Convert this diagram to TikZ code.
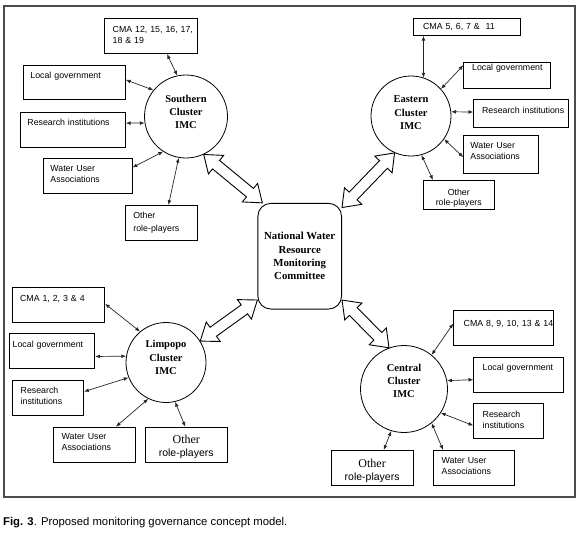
\documentclass[tikz,border=0pt]{standalone}
\usepackage{fontspec}
\setmainfont{Liberation Serif}
\setsansfont{Liberation Sans}
\usetikzlibrary{arrows.meta,calc}
\tikzset{
  frame/.style={draw=black!70, line width=1.3pt},
  bx/.style={draw, line width=0.8pt, rectangle, anchor=north west, inner xsep=8pt, inner ysep=0pt,
     align=left, font=\sffamily\fontsize{8.8}{11}\selectfont, text height=13.5pt},
  bxc/.style={bx, align=center, inner xsep=4pt},
  bxbig/.style={bxc, font=\sffamily\fontsize{10.5}{13}\selectfont},
  circ/.style={draw, circle, inner sep=0pt, line width=0.8pt},
  ctext/.style={align=center, inner sep=0pt, font=\bfseries\fontsize{10.5}{13.3}\selectfont},
  natl/.style={draw, rectangle, rounded corners=13pt, line width=0.9pt, inner sep=0pt,
     minimum width=83.7pt, minimum height=105.7pt, align=center,
     font=\bfseries\fontsize{10.8}{13.3}\selectfont},
  sa/.style={{Latex[length=4.8pt,width=3.8pt]}-{Latex[length=4.8pt,width=3.8pt]}, line width=0.7pt, draw=black!85},
  bigarr/.style={draw, line width=0.9pt, fill=white, line join=miter},
}
\newcommand\myBigArrow[2]{%
  \path (#1); \pgfgetlastxy{\myAx}{\myAy}%
  \path (#2); \pgfgetlastxy{\myBx}{\myBy}%
  \pgfmathsetmacro\myAng{atan2(\myBy-\myAy,\myBx-\myAx)}%
  \pgfmathsetmacro\myLen{veclen(\myBx-\myAx,\myBy-\myAy)}%
  \draw[bigarr, shift={(\myAx,\myAy)}, rotate=\myAng]
    (0pt,0pt) -- (16pt,12pt) -- (16pt,5.5pt) -- ({\myLen pt-16pt},5.5pt) -- ({\myLen pt-16pt},12pt)
    -- ({\myLen pt},0pt) -- ({\myLen pt-16pt},-12pt) -- ({\myLen pt-16pt},-5.5pt) -- (16pt,-5.5pt)
    -- (16pt,-12pt) -- cycle;%
}
\begin{document}
\begin{tikzpicture}[x=1pt,y=-1pt]
\useasboundingbox (0,0) rectangle (580,532);
\draw[frame] (4,6) rectangle (575,497);

% ---- circles
\node[circ, minimum size=83pt] (S) at (186,116.5) {};
\node[ctext] (St) at (186,112) {Southern\\Cluster\\IMC};
\node[circ, minimum size=80pt] (E) at (411,116) {};
\node[ctext] (Et) at (411,112.8) {Eastern\\Cluster\\IMC};
\node[circ, minimum size=80pt] (L) at (166,362.5) {};
\node[ctext] (Lt) at (166,357.7) {Limpopo\\Cluster\\IMC};
\node[circ, minimum size=87pt] (C) at (404,389) {};
\node[ctext] (Ct) at (404,381) {Central\\Cluster\\IMC};

% ---- national
\node[natl] (N) at (299.7,256.2) {National Water\\Resource\\Monitoring\\Committee};

% ---- Southern boxes
\node[bx, text width=76.4pt, text height=14.2pt, text depth=20.8pt] (cmaS) at (104.3,18.3) {\mbox{CMA 12, 15, 16, 17,}\\[-0.7pt]18 \& 19};
\node[bx, inner xsep=7.3pt, text width=87.7pt, text depth=20.8pt] (lgS) at (22.7,65) {Local government};
\node[bx, inner xsep=7pt, text width=91pt, text depth=21.5pt] (riS) at (20,111.7) {Research institutions};
\node[bx, inner xsep=7.3pt, text width=74.4pt, text height=13.2pt, text depth=21.8pt] (wuaS) at (42.7,158.3) {Water User\\Associations};
\node[bx, text width=55.7pt, text depth=21.5pt] (orpS) at (125,205) {Other\\[2pt]role-players};

% ---- Eastern boxes
\node[bx, inner xsep=9.4pt, text width=87.9pt, text height=11.2pt, text depth=5.5pt] (cmaE) at (413.3,18.3) {CMA 5, 6, 7 \& \ 11};
\node[bx, inner xsep=8.4pt, text width=69.9pt, text height=8pt, text depth=18.6pt] (lgE) at (463.3,61.7) {\mbox{Local government}};
\node[bx, inner xsep=8.4pt, text width=78.2pt, text height=14pt, text depth=14pt] (riE) at (473.3,99.3) {\mbox{Research institutions}};
\node[bx, inner xsep=6.7pt, text width=61.6pt, text depth=24.8pt] (wuaE) at (463.3,135) {Water User\\Associations};
\node[bxc, text width=63.3pt, text height=15pt, text depth=14pt] (orpE) at (422.7,180) {Other\\[-1pt]role-players};

% ---- Limpopo boxes
\node[bx, text width=76.6pt, text height=14pt, text depth=21pt] (cmaL) at (11.7,286.7) {CMA 1, 2, 3 \& 4};
\node[bx, inner xsep=3pt, text width=79pt, text depth=21.5pt] (lgL) at (9.3,333.3) {Local government};
\node[bx, text width=55pt, text depth=21.5pt] (riL) at (12.3,380) {Research\\institutions};
\node[bx, text width=65.7pt, text height=12.5pt, text depth=22.5pt] (wuaL) at (53.3,426.7) {Water User\\Associations};
\node[bxbig, text width=73.7pt, text height=16.5pt, text depth=18.5pt] (orpL) at (145,426.7) {{\rmfamily\fontsize{12}{13}\selectfont Other}\\role-players};

% ---- Central boxes
\node[bx, inner xsep=10pt, text width=80pt, text height=15.8pt, text depth=19.2pt] (cmaC) at (453.3,310) {\mbox{CMA 8, 9, 10, 13 \& 14}};
\node[bx, inner xsep=9pt, text width=72pt, text height=12.8pt, text depth=21.6pt] (lgC) at (473.3,357.3) {Local government};
\node[bx, inner xsep=9pt, text width=52pt, text depth=21.5pt] (riC) at (473.3,403.3) {Research\\[0.7pt]institutions};
\node[bx, text width=64.7pt, text depth=21.5pt] (wuaC) at (433.3,450) {Water User\\Associations};
\node[bxbig, text width=74pt, text height=17pt, text depth=18pt] (orpC) at (330.7,450) {{\rmfamily\fontsize{12}{13}\selectfont Other}\\role-players};

% ---- small connectors: Southern
\draw[sa] (cmaS.-48) -- (S.102);
\draw[sa] (lgS.3.5) -- (S.141);
\draw[sa] (riS.7) -- (S.189);
\draw[sa] (wuaS.11) -- (S.-123);
\draw[sa] (orpS.68) -- (S.-100);

% ---- Eastern
\draw[sa] (cmaE.south -| E.72) -- (E.72);
\draw[sa] (lgE.167) -- (E.42);
\draw[sa] (riE.178) -- (E.6);
\draw[sa] (wuaE.184) -- (E.-35);
\draw[sa] (orpE.150) -- (E.-75);

% ---- Limpopo
\draw[sa] (cmaL.1.5) -- (L.130);
\draw[sa] (lgL.-7) -- (L.171);
\draw[sa] (riL.10) -- (L.-158);
\draw[sa] (wuaL.40) -- (L.-116);
\draw[sa] (orpL.93) -- (L.-77);

% ---- Central
\draw[sa] (cmaC.175) -- (C.51);
\draw[sa] (lgC.186) -- (C.11);
\draw[sa] (riC.187) -- (C.-33);
\draw[sa] (wuaC.150) -- (C.-51.5);
\draw[sa] (orpC.57) -- (C.-107);

% ---- big double arrows
\myBigArrow{S.-65}{N.125}
\myBigArrow{E.-114}{N.49}
\myBigArrow{L.32}{N.-134}
\myBigArrow{C.110}{N.-46}

% ---- caption
\node[anchor=base west, inner sep=0pt, font=\sffamily\fontsize{11.3}{13}\selectfont] (cap) at (3,525)
  {\textbf{Fig. 3}. Proposed monitoring governance concept model.};
\end{tikzpicture}
\end{document}
